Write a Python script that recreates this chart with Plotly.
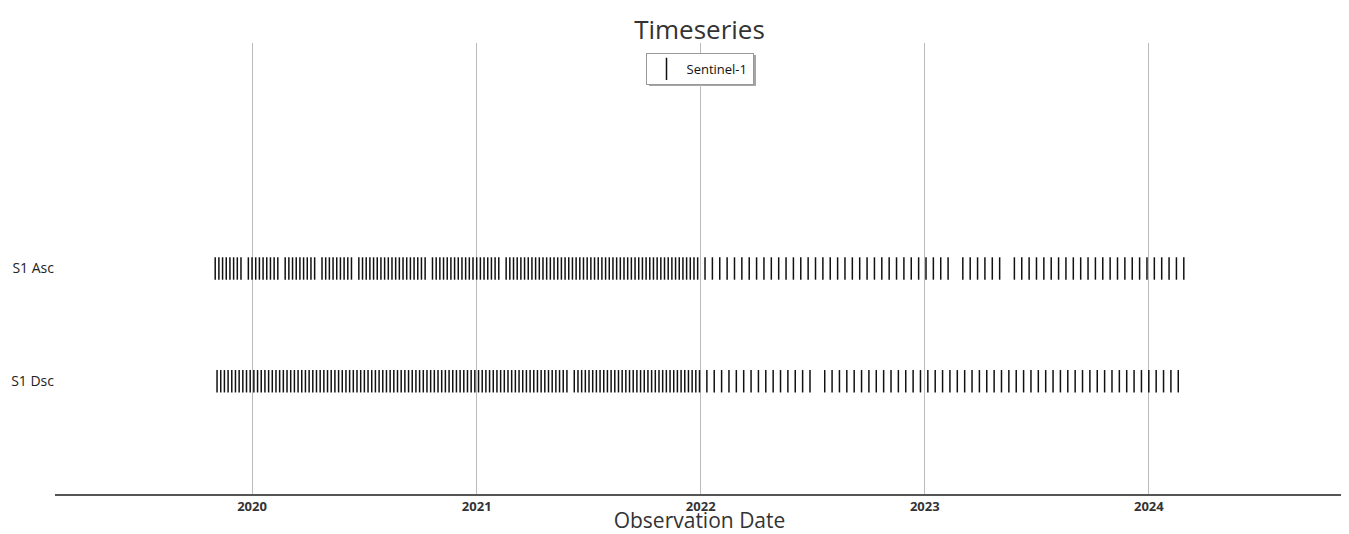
import pandas as pd
import plotly.graph_objects as go

# Acquisition dates, as day offsets from 2020-01-01
EPOCH = "2020-01-01"

asc_days = [
    -60, -54, -48, -42, -36, -30, -24, -18,
    -6, 0, 6, 12, 18, 24, 30, 36, 42,
    54, 60, 66, 72, 78, 84, 90, 96, 102,
    114, 120, 126, 132, 138, 144, 150, 156, 162,
    174, 180, 186, 192, 198, 204, 210, 216, 222, 228, 234, 240, 246, 252, 258, 264, 270, 276, 282,
    294, 300, 306, 312, 318, 324, 330, 336, 342, 348, 354, 360, 366, 372, 378, 384, 390, 396, 402,
    414, 420, 426, 432, 438, 444, 450, 456, 462, 468, 474, 480, 486, 492, 498, 504, 510, 516, 522,
    528, 534, 540, 546, 552, 558, 564, 570, 576, 582, 588, 594, 600, 606, 612, 618, 624, 630, 636,
    642, 648, 654, 660, 666, 672, 678, 684, 690, 696, 702, 708, 714, 720, 726,
    738, 750, 762, 774, 786, 798, 810, 822, 834, 846, 858, 870, 882, 894, 906, 918, 930, 942, 954,
    966, 978, 990, 1002, 1014, 1026, 1038, 1050, 1062, 1074, 1086, 1098, 1110, 1122, 1134,
    1158, 1170, 1182, 1194, 1206, 1218,
    1242, 1254, 1266, 1278, 1290, 1302, 1314, 1326, 1338, 1350, 1362, 1374, 1386, 1398, 1410,
    1422, 1434, 1446, 1458, 1470, 1482, 1494, 1506, 1518,
]

dsc_days = [
    -57, -51, -45, -39, -33, -27, -21, -15, -9, -3, 3, 9, 15, 21, 27, 33, 39, 45, 51, 57, 63, 69,
    75, 81, 87, 93, 99, 105, 111, 117, 123, 129, 135, 141, 147, 153, 159, 165, 171, 177, 183, 189,
    195, 201, 207, 213, 219, 225, 231, 237, 243, 249, 255, 261, 267, 273, 279, 285, 291, 297, 303,
    309, 315, 321, 327, 333, 339, 345, 351, 357, 363, 369, 375, 381, 387, 393, 399, 405, 411, 417,
    423, 429, 435, 441, 447, 453, 459, 465, 471, 477, 483, 489, 495, 501, 507, 513,
    525, 531, 537, 543, 549, 555, 561, 567, 573, 579, 585, 591, 597, 603, 609, 615, 621, 627, 633,
    639, 645, 651, 657, 663, 669, 675, 681, 687, 693, 699, 705, 711, 717, 723, 729,
    741, 753, 765, 777, 789, 801, 813, 825, 837, 849, 861, 873, 885, 897, 909,
    933, 945, 957, 969, 981, 993, 1005, 1017, 1029, 1041, 1053, 1065, 1077, 1089, 1101, 1113, 1125,
    1137, 1149, 1161, 1173, 1185, 1197, 1209, 1221, 1233, 1245, 1257, 1269, 1281, 1293, 1305, 1317,
    1329, 1341, 1353, 1365, 1377, 1389, 1401, 1413, 1425, 1437, 1449, 1461, 1473, 1485, 1497, 1509,
]

categories = ["S1 Dsc", "S1 Asc"]
series_name = "Sentinel-1"
x_range = ["2019-02-14", "2024-11-14"]
title_text = "Timeseries"
x_title = "Observation Date"

epoch = pd.Timestamp(EPOCH)
asc_dates = [epoch + pd.Timedelta(days=d) for d in asc_days]
dsc_dates = [epoch + pd.Timedelta(days=d) for d in dsc_days]

x_all = asc_dates + dsc_dates
y_all = [categories[1]] * len(asc_dates) + [categories[0]] * len(dsc_dates)

W, H = 1341, 526
L, R, T, B = 47, 5, 35, 40
plot_w, plot_h = W - L - R, H - T - B


def px_to_paper_x(px):
    return (px - L) / plot_w


def px_to_paper_y(py):
    return (H - B - py) / plot_h


fig = go.Figure()
fig.add_trace(go.Scatter(
    x=x_all, y=y_all, mode="markers", name=series_name, showlegend=True,
    marker=dict(symbol="line-ns", size=16, color="#111111",
                line=dict(width=1.5, color="#111111")),
))

# soft drop shadow under the legend box (figure pixel coordinates)
fig.add_shape(type="rect", xref="paper", yref="paper", layer="below",
              x0=px_to_paper_x(641), x1=px_to_paper_x(748),
              y0=px_to_paper_y(78), y1=px_to_paper_y(47),
              fillcolor="rgba(0,0,0,0.35)", line=dict(width=0))

fig.update_layout(
    width=W, height=H,
    margin=dict(l=L, r=R, t=T, b=B),
    paper_bgcolor="white", plot_bgcolor="white",
    font=dict(family="Open Sans, sans-serif", color="#222222"),
    title=dict(text=title_text, x=0.5, xref="paper", xanchor="center", yref="container",
               y=1 - 22 / H, yanchor="middle", font=dict(size=26, color="#333333")),
    showlegend=True,
    legend=dict(orientation="h", x=0.5, xanchor="center", y=0.978, yanchor="top",
                bgcolor="white", bordercolor="#999999", borderwidth=1,
                font=dict(size=13, color="#111111")),
    xaxis=dict(type="date", range=x_range, showgrid=True, gridcolor="#bbbbbb", gridwidth=1,
               dtick="M12", tickformat="%Y", showline=True, linecolor="#555555", linewidth=1.5,
               ticks="", zeroline=False, automargin=False,
               tickfont=dict(size=13, color="#333333", weight="bold"),
               title=dict(text=x_title, font=dict(size=21, color="#333333"), standoff=4)),
    yaxis=dict(type="category", categoryorder="array", categoryarray=categories,
               range=[-1, 3], showgrid=False, showline=False, zeroline=False, ticks="",
               automargin=False, tickfont=dict(size=14, color="#222222")),
)

fig.write_html("out.html")
